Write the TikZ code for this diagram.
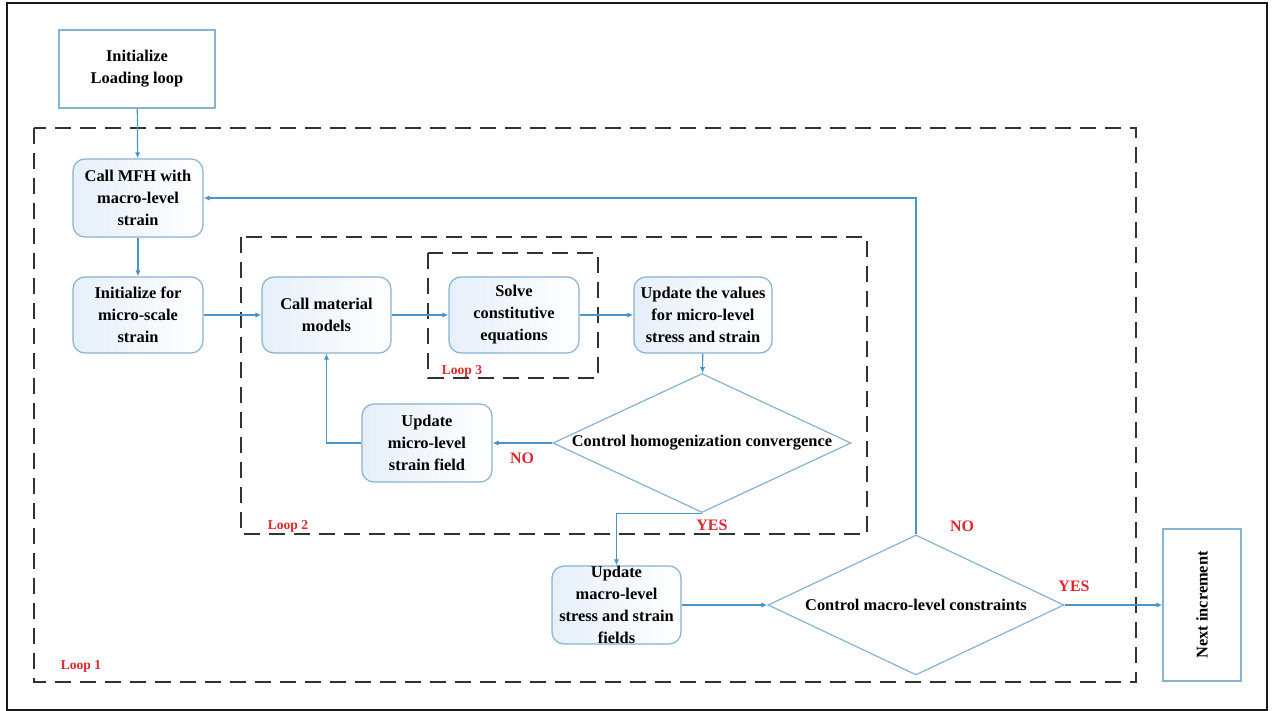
\documentclass[tikz,border=0pt]{standalone}
\usepackage{fontspec}
\setmainfont{Liberation Serif}
\usetikzlibrary{shapes.geometric,arrows.meta}
\definecolor{lineblue}{RGB}{70,150,205}
\definecolor{edgeblue}{RGB}{135,178,210}
\definecolor{shadeblue}{RGB}{230,239,249}
\definecolor{dashgray}{RGB}{50,50,50}
\definecolor{lblred}{RGB}{225,40,45}
\begin{document}
\begin{tikzpicture}[x=0.5pt,y=-0.5pt,
  txt/.style={font=\fontsize{8.2}{11}\selectfont\bfseries, align=center, text=black},
  rbox/.style={txt, draw=edgeblue, line width=0.6pt, rounded corners=6pt,
    left color=shadeblue, right color=white, inner sep=0pt},
  sbox/.style={txt, draw=edgeblue, line width=0.6pt, fill=white, inner sep=0pt},
  dia/.style={txt, diamond, draw=edgeblue, line width=0.6pt, fill=white, inner sep=0pt, shape aspect=2.14},
  conn/.style={draw=lineblue, line width=0.6pt, -{Latex[length=3pt,width=2.6pt]}},
  loopbox/.style={draw=dashgray, line width=1pt, dash pattern=on 8pt off 4.5pt},
  redlbl/.style={font=\fontsize{8}{9}\selectfont\bfseries, text=lblred, inner sep=0pt},
  looplbl/.style={font=\fontsize{6.8}{8}\selectfont\bfseries, text=lblred, inner sep=0pt}
]
\useasboundingbox (0,0) rectangle (1274,711);
\fill[white] (0,0) rectangle (1274,711);
\draw[line width=1.2pt, black!90] (7,3) rectangle (1267,710);

% loops
\draw[loopbox] (34,128) rectangle (1136,682);
\draw[loopbox] (241,237) rectangle (867,534);
\draw[loopbox] (428,253) rectangle (598,378);
\node[looplbl] (l1) at (81,666) {Loop 1};
\node[looplbl] (l2) at (288,526) {Loop 2};
\node[looplbl] (l3) at (462,371) {Loop 3};

% nodes
\node[sbox, minimum width=78pt, minimum height=39pt] (init) at (137,69) {Initialize\\Loading loop};
\node[rbox, minimum width=65pt, minimum height=39pt] (mfh) at (138,198) {Call MFH with\\macro-level\\strain};
\node[rbox, minimum width=65pt, minimum height=38pt] (initfor) at (138,315) {Initialize for\\micro-scale\\strain};
\node[rbox, minimum width=64.5pt, minimum height=38pt] (callmat) at (326.5,315) {Call material\\models};
\node[rbox, minimum width=65pt, minimum height=38pt] (solve) at (514,315) {Solve\\constitutive\\equations};
\node[rbox, minimum width=69pt, minimum height=38pt] (updval) at (703,315) {Update the values\\for micro-level\\stress and strain};
\node[rbox, minimum width=65pt, minimum height=39pt] (updmicro) at (427,443) {Update\\micro-level\\strain field};
\node[dia, minimum width=149pt, minimum height=69.5pt] (homog) at (702,443) {Control homogenization convergence};
\node[rbox, minimum width=64.5pt, minimum height=39pt] (updmacro) at (616.5,605) {Update\\macro-level\\stress and strain\\fields};
\node[dia, minimum width=148pt, minimum height=70pt] (macro) at (916,605) {Control macro-level constraints};
\node[sbox, minimum width=39pt, minimum height=76pt] (next) at (1202,605) {\rotatebox{90}{Next increment}};

% connectors
\draw[conn] (init) -- (mfh);
\draw[conn] (mfh) -- (initfor);
\draw[conn] (initfor) -- (callmat);
\draw[conn] (callmat) -- (solve);
\draw[conn] (solve) -- (updval);
\draw[conn] (updval) -- (homog);
\draw[conn] (homog.west) -- (updmicro.east);
\draw[conn] (updmicro.west) -| (callmat.south);
\draw[conn] (homog.south) -| (updmacro.north);
\draw[conn] (updmacro.east) -- (macro.west);
\draw[conn] (macro.east) -- (next.west);
\draw[conn] (macro.north) |- (mfh.east);

% labels
\node[redlbl] (no1) at (522,458) {NO};
\node[redlbl] (yes1) at (712,525) {YES};
\node[redlbl] (no2) at (962,526) {NO};
\node[redlbl] (yes2) at (1074,586) {YES};
\end{tikzpicture}
\end{document}
